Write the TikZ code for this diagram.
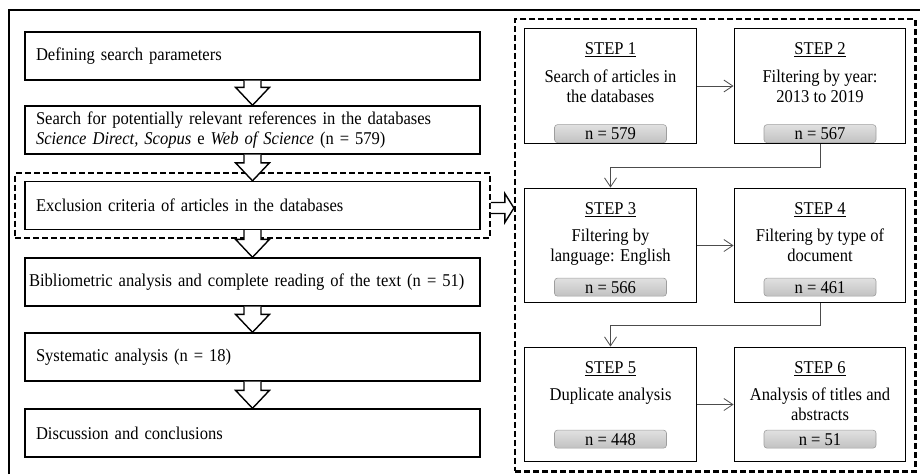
\documentclass[tikz,border=0pt]{standalone}
\usepackage{fontspec}
\setmainfont{Liberation Serif}[FakeStretch=0.92]
\usetikzlibrary{calc}
\usetikzlibrary{positioning}
\usetikzlibrary{fit}
\usetikzlibrary{arrows.meta}
\definecolor{pillline}{gray}{0.62}
\definecolor{pilltop}{gray}{0.88}
\definecolor{pillbot}{gray}{0.76}
\definecolor{flowline}{gray}{0.3}

\tikzset{
  mainfont/.style={font=\fontsize{18}{20}\selectfont},
  leftbox/.style={draw, line width=1.4pt, mainfont, align=left,
    text width=433pt, inner xsep=11pt, minimum height=48pt},
  stepbox/.style={draw, line width=1.4pt, minimum width=171.5pt,
    minimum height=114.5pt, inner sep=0pt},
  steptitle/.style={mainfont, inner sep=0pt},
  steptext/.style={mainfont, inner sep=0pt, align=center, anchor=north},
  pill/.style={draw=pillline, line width=0.6pt, rounded corners=3pt,
    top color=pilltop, bottom color=pillbot, minimum width=112pt,
    minimum height=18pt, inner sep=0pt, mainfont},
  dashframe/.style={draw, line width=2.2pt, dash pattern=on 6pt off 3pt},
  blockarrow/.style={draw, fill=white, line width=1.4pt, line join=miter},
  flow/.style={draw=flowline, line width=0.8pt,
    -{Straight Barb[length=9pt,width=12pt]}}
}

\begin{document}
\begin{tikzpicture}[x=1pt, y=1pt]
    \useasboundingbox (0,0) rectangle (920,-474);

    % outer frame
    \draw[line width=2pt] (9,-474) -- (9,-10) -- (920,-10);

    % left column
    \node[leftbox] (b1) at (252.5,-56) {Defining search parameters};
    \node[leftbox] (b2) at (252.5,-130) {Search for potentially relevant references in the databases\\
        \textit{Science Direct, Scopus} e \textit{Web of Science} (n = 579)};
    \node[leftbox] (b3) at (252.5,-205.5) {Exclusion criteria of articles in the databases};
    \node[leftbox, text width=447pt, inner xsep=4pt] (b4) at (252.5,-282)
        {Bibliometric analysis and complete reading of the text (n = 51)};
    \node[leftbox] (b5) at (252.5,-357) {Systematic analysis (n = 18)};
    \node[leftbox] (b6) at (252.5,-433) {Discussion and conclusions};

    % step boxes
    \node[stepbox] (s1) at (610.5,-86) {};
    \node[stepbox] (s2) at (820,-86) {};
    \node[stepbox] (s3) at (610.5,-245.5) {};
    \node[stepbox] (s4) at (820,-245.5) {};
    \node[stepbox] (s5) at (610.5,-404.5) {};
    \node[stepbox] (s6) at (820,-404.5) {};

    % step contents
    \node[steptitle] (t1) at ($(s1.north)+(0,-22)$) {\underline{STEP 1}};
    \node[steptext] (x1) at ($(s1.north)+(0,-42)$) {Search of articles in\\the databases};
    \node[pill, above=1pt of s1.south] (n1) {n = 579};

    \node[steptitle] (t2) at ($(s2.north)+(0,-22)$) {\underline{STEP 2}};
    \node[steptext] (x2) at ($(s2.north)+(0,-42)$) {Filtering by year:\\2013 to 2019};
    \node[pill, above=1pt of s2.south] (n2) {n = 567};

    \node[steptitle] (t3) at ($(s3.north)+(0,-22)$) {\underline{STEP 3}};
    \node[steptext] (x3) at ($(s3.north)+(0,-41)$) {Filtering by\\language: English};
    \node[pill, above=7pt of s3.south] (n3) {n = 566};

    \node[steptitle] (t4) at ($(s4.north)+(0,-22)$) {\underline{STEP 4}};
    \node[steptext] (x4) at ($(s4.north)+(0,-41)$) {Filtering by type of\\document};
    \node[pill, above=7pt of s4.south] (n4) {n = 461};

    \node[steptitle] (t5) at ($(s5.north)+(0,-22)$) {\underline{STEP 5}};
    \node[steptext] (x5) at ($(s5.north)+(0,-41)$) {Duplicate analysis};
    \node[pill, above=14pt of s5.south] (n5) {n = 448};

    \node[steptitle] (t6) at ($(s6.north)+(0,-22)$) {\underline{STEP 6}};
    \node[steptext] (x6) at ($(s6.north)+(0,-41)$) {Analysis of titles and\\abstracts};
    \node[pill, above=14pt of s6.south] (n6) {n = 51};

    % dashed frames
    \node[dashframe, fit=(b3), inner xsep=9pt, inner ysep=8pt] (exclfr) {};
    \node[dashframe, fit=(s1)(s6), inner sep=9pt] (steps) {};

    % block arrows
    \foreach \a/\b in {b1/b2,b2/b3,b3/b4,b4/b5,b5/b6}
        \draw[blockarrow] ($(\a.south)+(-8.5,0)$) |- ($(\b.north)+(-17,18)$) -- (\b.north)
            -- ($(\b.north)+(17,18)$) -| ($(\a.south)+(8.5,0)$);

    \coordinate (ra) at ($(exclfr.east)+(0,-2.5)$);
    \draw[blockarrow] ($(ra)+(0,5.5)$) -- ++(14,0) -- ++(0,9) -- (steps.west |- ra)
        -- ($(ra)+(14,-14.5)$) -- ++(0,9) -- ($(ra)+(0,-5.5)$);

    % step flow
    \draw[flow] (s1) -- (s2);
    \draw[flow] (s2.south) -- ++(0,-23) -| (s3.north);
    \draw[flow] (s3) -- (s4);
    \draw[flow] (s4.south) -- ++(0,-22) -| (s5.north);
    \draw[flow] (s5) -- (s6);
\end{tikzpicture}
\end{document}
